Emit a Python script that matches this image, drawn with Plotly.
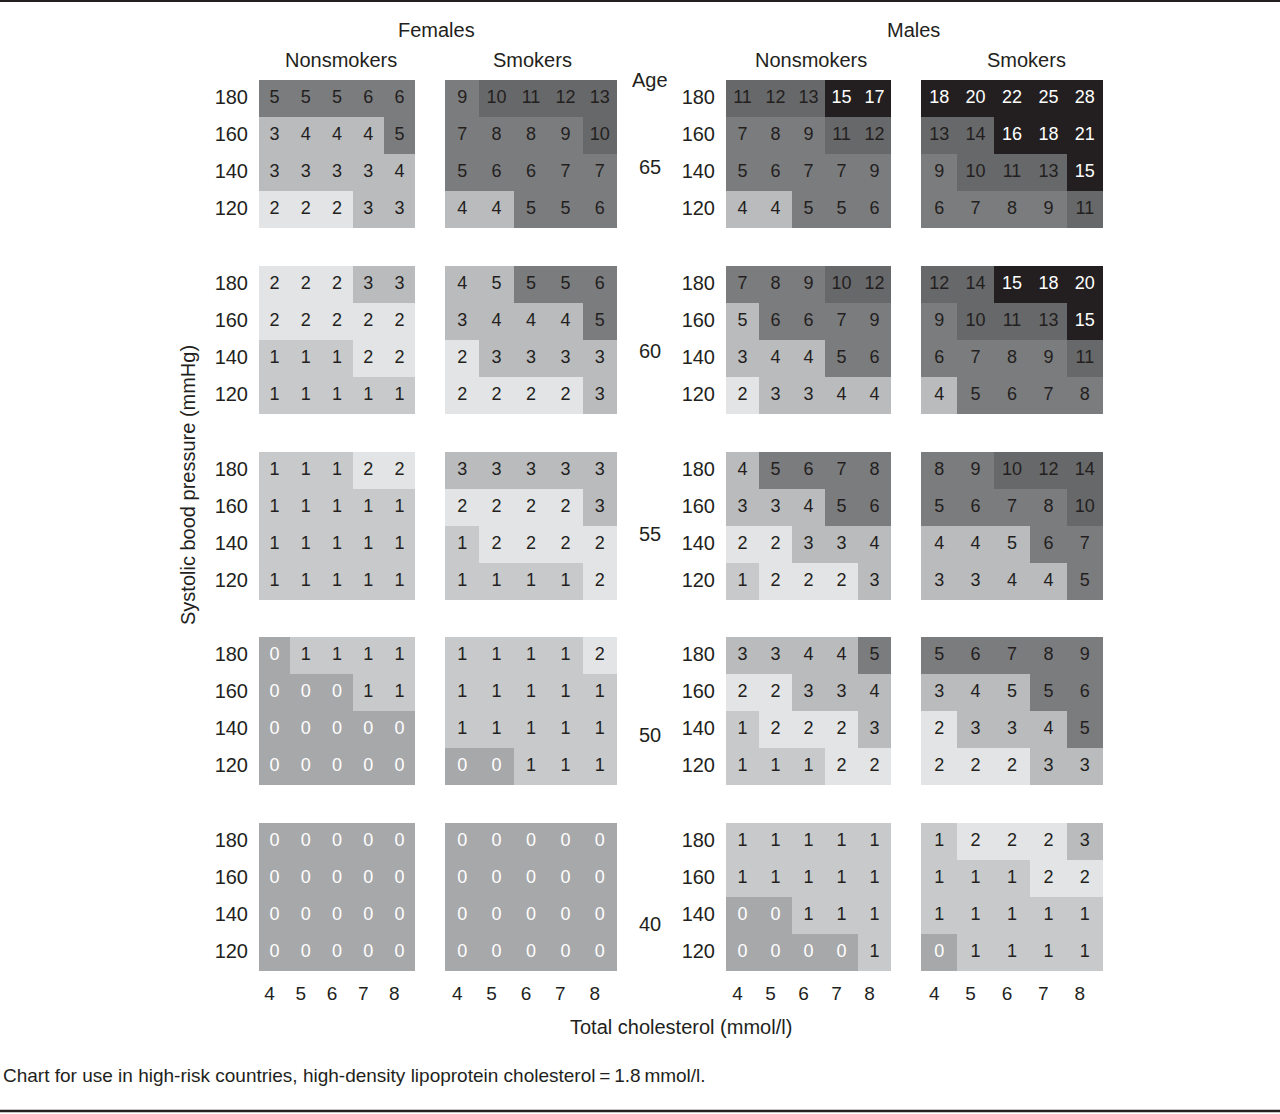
import plotly.graph_objects as go

W, H = 1280, 1114

chol = [4, 5, 6, 7, 8]
sbp = [180, 160, 140, 120]
ages = [65, 60, 55, 50, 40]

# rows top to bottom: sbp 180, 160, 140, 120 ; columns: cholesterol 4..8
female_nonsmokers = {
    65: [[5, 5, 5, 6, 6], [3, 4, 4, 4, 5], [3, 3, 3, 3, 4], [2, 2, 2, 3, 3]],
    60: [[2, 2, 2, 3, 3], [2, 2, 2, 2, 2], [1, 1, 1, 2, 2], [1, 1, 1, 1, 1]],
    55: [[1, 1, 1, 2, 2], [1, 1, 1, 1, 1], [1, 1, 1, 1, 1], [1, 1, 1, 1, 1]],
    50: [[0, 1, 1, 1, 1], [0, 0, 0, 1, 1], [0, 0, 0, 0, 0], [0, 0, 0, 0, 0]],
    40: [[0, 0, 0, 0, 0], [0, 0, 0, 0, 0], [0, 0, 0, 0, 0], [0, 0, 0, 0, 0]],
}
female_smokers = {
    65: [[9, 10, 11, 12, 13], [7, 8, 8, 9, 10], [5, 6, 6, 7, 7], [4, 4, 5, 5, 6]],
    60: [[4, 5, 5, 5, 6], [3, 4, 4, 4, 5], [2, 3, 3, 3, 3], [2, 2, 2, 2, 3]],
    55: [[3, 3, 3, 3, 3], [2, 2, 2, 2, 3], [1, 2, 2, 2, 2], [1, 1, 1, 1, 2]],
    50: [[1, 1, 1, 1, 2], [1, 1, 1, 1, 1], [1, 1, 1, 1, 1], [0, 0, 1, 1, 1]],
    40: [[0, 0, 0, 0, 0], [0, 0, 0, 0, 0], [0, 0, 0, 0, 0], [0, 0, 0, 0, 0]],
}
male_nonsmokers = {
    65: [[11, 12, 13, 15, 17], [7, 8, 9, 11, 12], [5, 6, 7, 7, 9], [4, 4, 5, 5, 6]],
    60: [[7, 8, 9, 10, 12], [5, 6, 6, 7, 9], [3, 4, 4, 5, 6], [2, 3, 3, 4, 4]],
    55: [[4, 5, 6, 7, 8], [3, 3, 4, 5, 6], [2, 2, 3, 3, 4], [1, 2, 2, 2, 3]],
    50: [[3, 3, 4, 4, 5], [2, 2, 3, 3, 4], [1, 2, 2, 2, 3], [1, 1, 1, 2, 2]],
    40: [[1, 1, 1, 1, 1], [1, 1, 1, 1, 1], [0, 0, 1, 1, 1], [0, 0, 0, 0, 1]],
}
male_smokers = {
    65: [[18, 20, 22, 25, 28], [13, 14, 16, 18, 21], [9, 10, 11, 13, 15], [6, 7, 8, 9, 11]],
    60: [[12, 14, 15, 18, 20], [9, 10, 11, 13, 15], [6, 7, 8, 9, 11], [4, 5, 6, 7, 8]],
    55: [[8, 9, 10, 12, 14], [5, 6, 7, 8, 10], [4, 4, 5, 6, 7], [3, 3, 4, 4, 5]],
    50: [[5, 6, 7, 8, 9], [3, 4, 5, 5, 6], [2, 3, 3, 4, 5], [2, 2, 2, 3, 3]],
    40: [[1, 2, 2, 2, 3], [1, 1, 1, 2, 2], [1, 1, 1, 1, 1], [0, 1, 1, 1, 1]],
}

# cells printed as 5 but shaded in the 3-4 % band (panel, age, sbp, chol)
lighter_cells = [
    ("female_smokers", 60, 180, 5),
    ("male_nonsmokers", 60, 160, 4),
    ("male_smokers", 55, 140, 6),
    ("male_smokers", 50, 160, 6),
]

panels = [
    ("female_nonsmokers", female_nonsmokers, 259, 415),
    ("female_smokers", female_smokers, 445, 617),
    ("male_nonsmokers", male_nonsmokers, 726, 891),
    ("male_smokers", male_smokers, 921, 1103),
]
row_px = [(80, 228), (266, 414), (452, 600), (637, 785), (823, 971)]

band_colours = ["#a7a8aa", "#c8c9cb", "#e3e4e6", "#babbbd", "#7b7c7e", "#67686a", "#231f20"]


def band(v):
    if v <= 2:
        return v
    if v <= 4:
        return 3
    if v <= 9:
        return 4
    if v <= 14:
        return 5
    return 6


def px(x):
    return x / W


def py(y):
    return 1 - y / H


font = "Liberation Sans, Arial, sans-serif"
ink = "#231f20"

fig = go.Figure()
layout = {}
for j, age in enumerate(ages):
    for i, (name, data, x0, x1) in enumerate(panels):
        n = j * 4 + i + 1
        xa = "x" if n == 1 else "x%d" % n
        ya = "y" if n == 1 else "y%d" % n
        vals = data[age]
        z = []
        for r, s in enumerate(sbp):
            zr = []
            for c, ch in enumerate(chol):
                b = band(vals[r][c])
                if (name, age, s, ch) in lighter_cells:
                    b = 3
                zr.append(b)
            z.append(zr)
        fig.add_trace(go.Heatmap(
            x=chol, y=sbp, z=z, zmin=0, zmax=6,
            colorscale=[[k / 6, c] for k, c in enumerate(band_colours)],
            showscale=False, hoverinfo="skip", xaxis=xa, yaxis=ya,
        ))
        tx, ty, tt, tc = [], [], [], []
        for r, s in enumerate(sbp):
            for c, ch in enumerate(chol):
                v = vals[r][c]
                tx.append(ch)
                ty.append(s)
                tt.append(str(v))
                tc.append("white" if v == 0 or band(v) == 6 else ink)
        fig.add_trace(go.Scatter(
            x=tx, y=ty, text=tt, mode="text",
            textfont=dict(family=font, size=18, color=tc),
            hoverinfo="skip", showlegend=False, xaxis=xa, yaxis=ya,
        ))
        y0, y1 = row_px[j]
        key = "" if n == 1 else str(n)
        layout["xaxis" + key] = dict(
            domain=[px(x0), px(x1)], anchor=ya, range=[3.5, 8.5],
            tickvals=chol, showticklabels=(j == 4), ticks="",
            ticklabelstandoff=9, ticklabelshift=-5,
            showgrid=False, zeroline=False, showline=False,
            tickfont=dict(family=font, size=19, color=ink),
        )
        layout["yaxis" + key] = dict(
            domain=[py(y1), py(y0)], anchor=xa, range=[110, 190],
            tickvals=sbp, showticklabels=(i in (0, 2)), ticks="",
            ticklabelstandoff=10, ticklabelshift=-2,
            showgrid=False, zeroline=False, showline=False,
            tickfont=dict(family=font, size=20, color=ink),
        )

fig.update_layout(**layout)

annotations = []


def label(text, x, y, size=20, **kw):
    opts = dict(xanchor="center", yanchor="middle")
    opts.update(kw)
    annotations.append(dict(
        text=text, x=px(x), y=py(y), xref="paper", yref="paper",
        showarrow=False, font=dict(family=font, size=size, color=ink), **opts,
    ))


label("Females", 436, 30)
label("Males", 913, 30)
label("Nonsmokers", 341, 60)
label("Smokers", 532, 60)
label("Nonsmokers", 811, 60)
label("Smokers", 1026, 60)
label("Age", 650, 80)
for age, y in zip(ages, [167, 351, 534, 735, 924]):
    label(str(age), 650, y)
label("Systolic bood pressure (mmHg)", 188, 485, textangle=-90)
label("Total cholesterol (mmol/l)", 681, 1027)
label("Chart for use in high-risk countries, high-density lipoprotein cholesterol\u2009=\u20091.8\u2009mmol/l.",
      1, 1075, size=19, xanchor="left")

fig.update_layout(
    width=W, height=H, margin=dict(l=0, r=0, t=0, b=0),
    paper_bgcolor="white", plot_bgcolor="white", showlegend=False,
    annotations=annotations,
    shapes=[
        dict(type="line", xref="paper", yref="paper", x0=0, x1=1, y0=py(1), y1=py(1),
             line=dict(color=ink, width=2)),
        dict(type="line", xref="paper", yref="paper", x0=0, x1=1, y0=py(1111), y1=py(1111),
             line=dict(color=ink, width=2.5)),
    ],
)

# the page body has a default 8px margin; drop it so the figure fills the window
fig.write_html("out.html", config={"displayModeBar": False},
               post_script="document.body.style.margin='0';")
